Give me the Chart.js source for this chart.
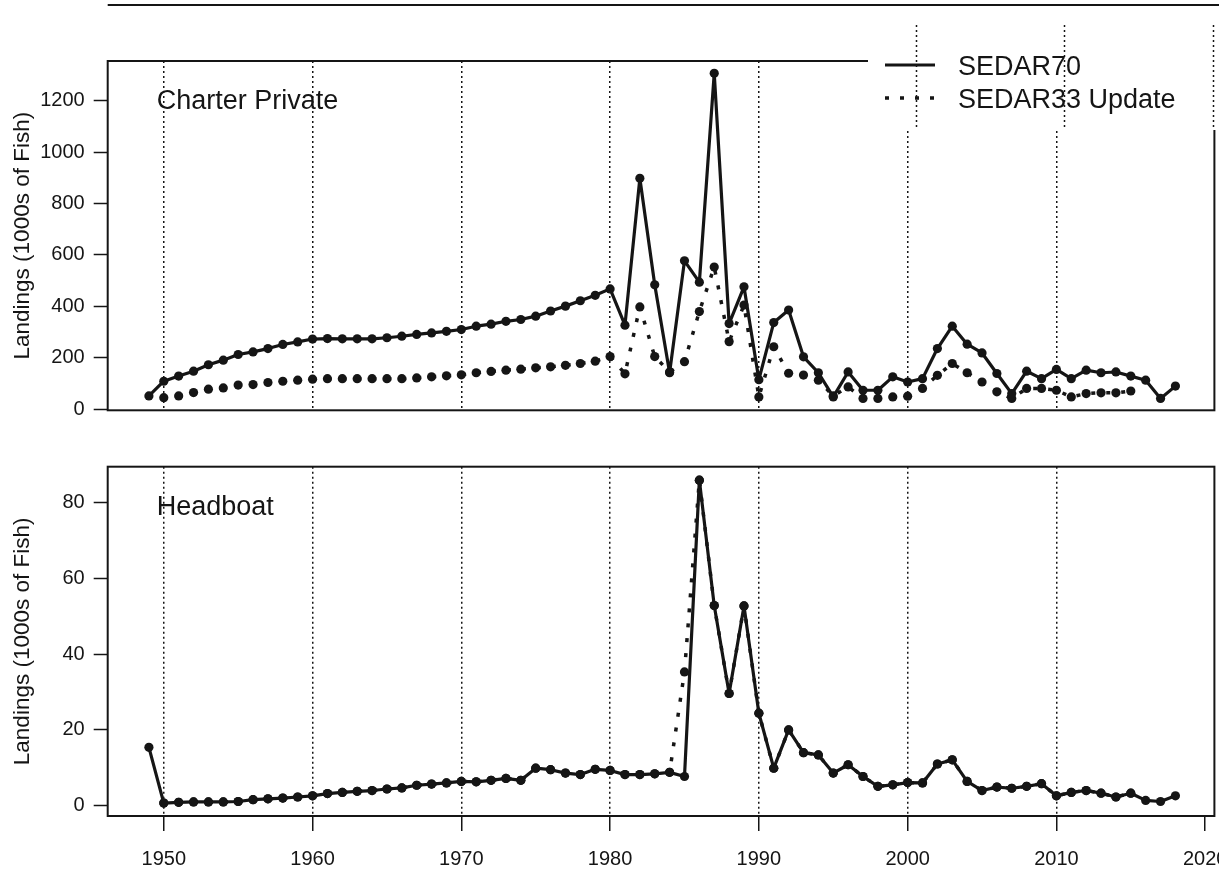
<!DOCTYPE html>
<html>
<head>
<meta charset="utf-8">
<title>Landings</title>
<script src="https://cdn.jsdelivr.net/npm/chart.js@4.4.1/dist/chart.umd.min.js"></script>
<style>
  html, body { margin: 0; padding: 0; background: #fff; }
  #wrap { position: relative; width: 1219px; height: 872px; overflow: hidden; background: #fff; }
  canvas { position: absolute; left: 0; }
  #charter { top: 0; }
  #headboat { top: 440px; }
</style>
</head>
<body>
<div id="wrap">
  <canvas id="charter" width="1219" height="440"></canvas>
  <canvas id="headboat" width="1219" height="432"></canvas>
</div>
<script>
// data (1000s of fish)
const charterStart70 = 1949;
const charter70 = [
  52, 109, 129, 148, 173, 191, 213, 223, 236, 252,
  262, 273, 275, 274, 274, 274, 278, 284, 291, 297,
  303, 310, 323, 331, 342, 349, 362, 382, 401, 422,
  443, 468, 327, 898, 484, 142, 577, 494, 1306, 333,
  476, 115, 337, 386, 204, 142, 48, 145, 74, 74,
  126, 106, 119, 236, 323, 253, 219, 139, 61, 148,
  119, 155, 119, 152, 142, 145, 129, 113, 42, 90
];
const charterStart33 = 1950;
const charter33 = [
  45, 52, 65, 78, 83, 94, 96, 104, 109, 113,
  117, 119, 119, 119, 119, 119, 119, 122, 126, 130,
  134, 142, 147, 152, 156, 161, 165, 171, 178, 187,
  205, 138, 398, 205, 145, 185, 380, 553, 263, 405,
  48, 243, 140, 133, 113, 52, 87, 42, 42, 48,
  51, 81, 132, 178, 142, 106, 68, 42, 81, 81,
  74, 48, 61, 64, 64, 71
];
const headboatStart70 = 1949;
const headboat70 = [
  15.4, 0.7, 0.9, 1.0, 1.0, 1.0, 1.1, 1.6, 1.8, 2.0,
  2.3, 2.6, 3.2, 3.5, 3.8, 4.0, 4.4, 4.7, 5.4, 5.7,
  6.0, 6.4, 6.3, 6.7, 7.2, 6.7, 9.9, 9.5, 8.6, 8.2,
  9.6, 9.3, 8.2, 8.2, 8.4, 8.8, 7.7, 85.9, 52.8, 29.6,
  52.7, 24.4, 9.9, 20.0, 14.0, 13.4, 8.6, 10.8, 7.7, 5.1,
  5.5, 6.1, 6.0, 11.0, 12.1, 6.4, 4.0, 4.9, 4.6, 5.1,
  5.8, 2.6, 3.5, 4.0, 3.3, 2.3, 3.3, 1.4, 1.1, 2.6
];
const headboatStart33 = 1950;
const headboat33 = [
  0.7, 0.9, 1.0, 1.0, 1.0, 1.1, 1.6, 1.8, 2.0,
  2.3, 2.6, 3.2, 3.5, 3.8, 4.0, 4.4, 4.7, 5.4, 5.7,
  6.0, 6.4, 6.3, 6.7, 7.2, 6.7, 9.9, 9.5, 8.6, 8.2,
  9.6, 9.3, 8.2, 8.2, 8.4, 8.8, 35.3, 85.9, 52.8, 29.6,
  52.7, 24.4, 9.9, 20.0, 14.0, 13.4, 8.6, 10.8, 7.7, 5.1,
  5.5, 6.1, 6.0, 11.0, 12.1, 6.4, 4.0, 4.9, 4.6, 5.1,
  5.8, 2.6, 3.5, 4.0, 3.3, 2.3, 3.3
];

const yearTicks = [1950, 1960, 1970, 1980, 1990, 2000, 2010, 2020];
const gridYears = [1950, 1960, 1970, 1980, 1990, 2000, 2010];
const charterTicks = [0, 200, 400, 600, 800, 1000, 1200];
const headboatTicks = [0, 20, 40, 60, 80];
const seriesNames = ['SEDAR70', 'SEDAR33 Update'];
const panelTitles = ['Charter Private', 'Headboat'];
const yTitle = 'Landings (1000s of Fish)';

const INK = '#151515';
const FONT = '"Liberation Sans", Arial, Helvetica, sans-serif';
const DOTS = [4, 11];

function toPoints(start, vals) {
  return vals.map((v, i) => ({ x: start + i, y: v }));
}

function seriesSets(v70, s70, v33, s33) {
  return [{
    label: seriesNames[0],
    data: toPoints(s70, v70),
    borderColor: INK,
    backgroundColor: INK,
    borderWidth: 3.2,
    borderJoinStyle: 'round',
    pointRadius: 4.6,
    pointBorderWidth: 0,
    pointBackgroundColor: INK,
    tension: 0
  }, {
    label: seriesNames[1],
    data: toPoints(s33, v33),
    borderColor: INK,
    backgroundColor: INK,
    borderWidth: 3.5,
    borderDash: DOTS,
    borderCapStyle: 'butt',
    borderJoinStyle: 'round',
    pointRadius: 4.6,
    pointBorderWidth: 0,
    pointBackgroundColor: INK,
    tension: 0
  }];
}

function drawLegend(chart) {
  const ctx = chart.ctx;
  const xs = chart.scales.x;
  ctx.fillStyle = '#fff';
  ctx.fillRect(868, 20, 351, 110);

  // shifted grid fragments visible in the legend box
  ctx.save();
  ctx.strokeStyle = INK;
  ctx.lineWidth = 1.5;
  ctx.setLineDash([2, 3]);
  [2000, 2010, 2020].forEach(yr => {
    const px = Math.round(xs.getPixelForValue(yr)) + 8.5;
    ctx.beginPath();
    ctx.moveTo(px, 25);
    ctx.lineTo(px, 127);
    ctx.stroke();
  });
  ctx.restore();

  ctx.strokeStyle = INK;
  ctx.lineWidth = 3.2;
  ctx.beginPath();
  ctx.moveTo(885, 65);
  ctx.lineTo(935, 65);
  ctx.stroke();

  ctx.save();
  ctx.lineWidth = 3.5;
  ctx.setLineDash(DOTS);
  ctx.beginPath();
  ctx.moveTo(885, 98);
  ctx.lineTo(937, 98);
  ctx.stroke();
  ctx.restore();

  ctx.fillStyle = INK;
  ctx.font = '27px ' + FONT;
  ctx.textBaseline = 'alphabetic';
  ctx.fillText(seriesNames[0], 958, 75);
  ctx.fillText(seriesNames[1], 958, 108);
}

const panelPlugin = {
  id: 'panel',
  afterDraw(chart, args, opts) {
    const { ctx, chartArea: a } = chart;
    ctx.save();
    ctx.strokeStyle = INK;
    ctx.lineWidth = 2;
    ctx.strokeRect(a.left, a.top, a.right - a.left, a.bottom - a.top);

    if (opts.topRule) {
      ctx.beginPath();
      ctx.moveTo(a.left, 5);
      ctx.lineTo(chart.width, 5);
      ctx.stroke();
    }

    ctx.fillStyle = INK;
    ctx.font = '27px ' + FONT;
    ctx.textBaseline = 'alphabetic';
    ctx.fillText(opts.title, a.left + 49, a.top + 48);

    if (opts.legend) drawLegend(chart);
    ctx.restore();
  }
};

function makeOptions(cfg) {
  return {
    responsive: false,
    animation: false,
    devicePixelRatio: 1,
    layout: { padding: { top: cfg.padTop, right: cfg.padRight, bottom: 0, left: 0 } },
    plugins: {
      legend: { display: false },
      tooltip: { enabled: false },
      panel: { title: cfg.title, legend: cfg.legend, topRule: cfg.legend }
    },
    scales: {
      x: {
        type: 'linear',
        min: 1946.23,
        max: 2020.62,
        afterBuildTicks: s => { s.ticks = yearTicks.map(v => ({ value: v })); },
        afterFit: s => { s.height = cfg.xHeight; s.paddingLeft = 0; s.paddingRight = 0; },
        border: { display: false, dash: [2, 3] },
        grid: {
          color: c => (c.tick && gridYears.includes(c.tick.value)) ? INK : 'rgba(0,0,0,0)',
          lineWidth: 1.5,
          drawTicks: cfg.xLabels,
          tickLength: 15,
          tickColor: INK,
          tickWidth: 1.5
        },
        ticks: {
          display: cfg.xLabels,
          autoSkip: false,
          maxRotation: 0,
          padding: 16,
          color: INK,
          font: { family: FONT, size: 20 },
          callback: v => String(v)
        }
      },
      y: {
        min: cfg.yMin,
        max: cfg.yMax,
        afterBuildTicks: s => { s.ticks = cfg.yTicks.map(v => ({ value: v })); },
        afterFit: s => { s.width = 107.7; s.paddingTop = 0; s.paddingBottom = 0; },
        border: { display: false },
        grid: {
          drawOnChartArea: false,
          drawTicks: true,
          tickLength: 14,
          tickColor: INK,
          tickWidth: 1.5
        },
        ticks: {
          padding: 9,
          color: INK,
          font: { family: FONT, size: 20 },
          callback: v => String(v)
        },
        title: {
          display: true,
          text: yTitle,
          color: INK,
          font: { family: FONT, size: 22.5 },
          padding: { top: 9, bottom: 0 }
        }
      }
    }
  };
}

new Chart(document.getElementById('charter'), {
  type: 'line',
  data: { datasets: seriesSets(charter70, charterStart70, charter33, charterStart33) },
  options: makeOptions({
    padTop: 61, padRight: 2, xHeight: 29.7, xLabels: false,
    yMin: -4, yMax: 1354, yTicks: charterTicks,
    title: panelTitles[0], legend: true
  }),
  plugins: [panelPlugin]
});

new Chart(document.getElementById('headboat'), {
  type: 'line',
  data: { datasets: seriesSets(headboat70, headboatStart70, headboat33, headboatStart33) },
  options: makeOptions({
    padTop: 26.7, padRight: 1, xHeight: 56, xLabels: true,
    yMin: -2.72, yMax: 89.45, yTicks: headboatTicks,
    title: panelTitles[1], legend: false
  }),
  plugins: [panelPlugin]
});
</script>
</body>
</html>
